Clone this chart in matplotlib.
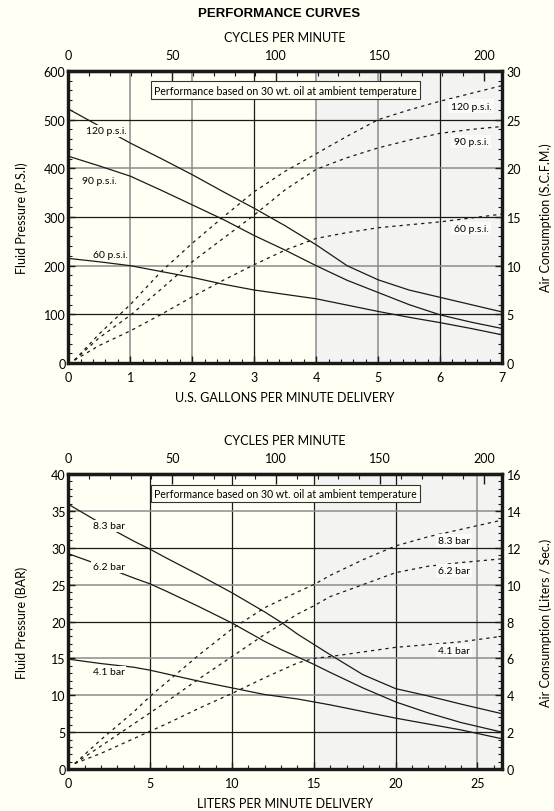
import matplotlib
matplotlib.use("Agg")
import matplotlib.pyplot as plt
from matplotlib.ticker import MultipleLocator

plt.rcParams['font.family'] = ['Lato', 'DejaVu Sans']

BG = '#fffff4'
SHADE = '#f3f3f1'
GRAY = '#8c8c8c'
BLACK = '#1a1a1a'

# cycles per minute at the right edge of both charts (7 gal = 26.5 l)
CYC_MAX = 208.7

# ---- U.S. chart ----
gpm = [0, 0.5, 1, 1.5, 2, 2.5, 3, 3.5, 4, 4.5, 5, 5.5, 6, 6.5, 7]
psi_120 = [522, 487, 452, 420, 387, 352, 318, 282, 243, 200, 171, 150, 135, 120, 105]
psi_90 = [425, 405, 384, 355, 325, 295, 262, 232, 200, 170, 145, 120, 99, 84, 71]
psi_60 = [215, 208, 200, 188, 176, 162, 150, 141, 132, 119, 106, 94, 83, 71, 58]

gpm_air = [0.1, 0.5, 1, 1.5, 2, 2.5, 3, 3.5, 4, 4.5, 5, 5.5, 6, 6.5, 7]
scfm_120 = [0.3, 3.0, 6.0, 9.4, 12.3, 15.0, 17.6, 19.7, 21.5, 23.3, 25.0, 26.0, 26.9, 27.7, 28.5]
scfm_90 = [0.3, 2.6, 4.9, 7.6, 10.4, 12.8, 15.2, 17.8, 19.9, 21.1, 22.1, 22.9, 23.6, 24.0, 24.3]
scfm_60 = [0.3, 1.8, 3.3, 5.0, 6.8, 8.5, 10.1, 11.6, 12.8, 13.4, 13.9, 14.2, 14.5, 14.9, 15.3]

psi_names = ['120 p.s.i.', '90 p.s.i.', '60 p.s.i.']
psi_name_left = [(0.62, 477), (0.51, 375), (0.68, 224)]
psi_name_right = [(6.5, 26.4), (6.5, 22.8), (6.5, 13.8)]

# ---- metric chart ----
lpm = [0, 2, 4, 5, 6, 8, 10, 12, 13, 14, 15, 16, 18, 20, 22, 24, 26.5]
bar_83 = [35.9, 33.3, 30.9, 29.8, 28.6, 26.3, 23.9, 21.3, 19.9, 18.3, 16.9, 15.5, 12.8, 10.9, 9.9, 8.8, 7.5]
bar_62 = [29.2, 27.6, 25.9, 25.1, 24.1, 22.0, 19.8, 17.3, 16.2, 15.2, 14.2, 13.1, 11.0, 9.1, 7.6, 6.3, 5.0]
bar_41 = [14.9, 14.3, 13.8, 13.4, 12.9, 11.9, 11.0, 10.1, 9.8, 9.5, 9.1, 8.7, 7.8, 6.9, 6.1, 5.3, 4.1]

lpm_air = [0.4, 2, 4, 5, 6, 8, 10, 12, 14, 15, 16, 18, 20, 22, 24, 26.5]
lps_83 = [0.3, 1.6, 3.1, 3.95, 4.7, 6.2, 7.6, 8.75, 9.6, 10.0, 10.5, 11.35, 12.1, 12.6, 13.0, 13.5]
lps_62 = [0.3, 1.25, 2.45, 3.05, 3.65, 4.9, 6.1, 7.3, 8.4, 8.85, 9.35, 10.0, 10.65, 11.0, 11.2, 11.4]
lps_41 = [0.3, 0.85, 1.65, 2.05, 2.45, 3.3, 4.1, 4.95, 5.75, 6.0, 6.1, 6.35, 6.6, 6.75, 6.9, 7.2]

bar_names = ['8.3 bar', '6.2 bar', '4.1 bar']
bar_name_left = [(2.46, 33.0), (2.46, 27.4), (2.46, 13.2)]
bar_name_right = [(23.56, 12.38), (23.56, 10.75), (23.56, 6.45)]

NOTE = 'Performance based on 30 wt. oil at ambient temperature'


def panel(ax, x, curves, x_air, airs, names, pos_left, pos_right,
          xmax, xticks, xminor, ymax, ymajor, yminor, y2max, y2major, y2minor,
          shade_from, vcolors, hcolors, xlabel, ylabel, y2label):
    ax.set_facecolor(BG)
    ax.axvspan(shade_from, xmax, color=SHADE, zorder=0, lw=0)
    for v, c in zip(xticks[1:], vcolors):
        ax.axvline(v, color=c, lw=1.1 if c == GRAY else 0.9, zorder=1)
    for h, c in zip(range(ymajor, ymax, ymajor), hcolors):
        ax.axhline(h, color=c, lw=1.1 if c == GRAY else 0.9, zorder=1)

    for y in curves:
        ax.plot(x, y, color=BLACK, lw=0.9, zorder=3)
    for name, (tx, ty) in zip(names, pos_left):
        ax.text(tx, ty, name, fontsize=7.5, ha='center', va='center', zorder=4,
                bbox=dict(boxstyle='square,pad=0.15', fc=BG, ec='none'))

    ax.set_xlim(0, xmax)
    ax.set_ylim(0, ymax)
    ax.set_xticks(xticks)
    ax.xaxis.set_minor_locator(MultipleLocator(xminor))
    ax.yaxis.set_major_locator(MultipleLocator(ymajor))
    ax.yaxis.set_minor_locator(MultipleLocator(yminor))
    ax.tick_params(which='both', direction='in', labelsize=9, color=BLACK)
    ax.tick_params(which='major', length=5, width=1)
    ax.tick_params(which='minor', length=3, width=0.8)
    ax.tick_params(axis='x', pad=6)
    ax.tick_params(axis='y', pad=2)

    ax.set_xlabel(xlabel, fontsize=9, va='center')
    ax.xaxis.set_label_coords(0.5, -0.115)
    ax.set_ylabel(ylabel, fontsize=9, va='center')
    ax.yaxis.set_label_coords(-0.107, 0.5)

    ax2 = ax.twinx()
    for y in airs:
        ax2.plot(x_air, y, color=BLACK, lw=0.9, ls=(0, (2.6, 3.2)), zorder=3)
    for name, (tx, ty) in zip(names, pos_right):
        ax2.text(tx, ty, name, fontsize=7.5, ha='center', va='center', zorder=4,
                 bbox=dict(boxstyle='square,pad=0.2', fc='#fbfbf9', ec='none'))
    ax2.set_ylim(0, y2max)
    ax2.yaxis.set_major_locator(MultipleLocator(y2major))
    ax2.yaxis.set_minor_locator(MultipleLocator(y2minor))
    ax2.tick_params(which='both', direction='in', labelsize=9, pad=3.5, color=BLACK)
    ax2.tick_params(which='major', length=5, width=1)
    ax2.tick_params(which='minor', length=3, width=0.8)
    ax2.set_ylabel(y2label, fontsize=9, va='center', rotation=90)
    ax2.yaxis.set_label_coords(1.1, 0.5)

    ax2.text(0.5, 0.935, NOTE, transform=ax2.transAxes, fontsize=7.6,
             ha='center', va='center', zorder=5,
             bbox=dict(boxstyle='square,pad=0.3', fc=BG, ec='#333333', lw=0.8))

    sec = ax.secondary_xaxis('top', functions=(lambda v: v * CYC_MAX / xmax,
                                               lambda c: c * xmax / CYC_MAX))
    sec.set_xticks([0, 50, 100, 150, 200])
    sec.xaxis.set_minor_locator(MultipleLocator(10))
    sec.tick_params(which='both', direction='in', labelsize=9, pad=7, color=BLACK)
    sec.tick_params(which='major', length=7, width=1)
    sec.tick_params(which='minor', length=3.5, width=0.8)
    sec.set_xlabel('CYCLES PER MINUTE', fontsize=9, labelpad=6)

    for a in (ax, ax2, sec):
        for s in a.spines.values():
            s.set_linewidth(2.3)
            s.set_color(BLACK)


fig = plt.figure(figsize=(5.54, 8.12), dpi=100, facecolor=BG)
ax_us = fig.add_axes([0.1233, 0.5517, 0.7828, 0.3596])
ax_si = fig.add_axes([0.1233, 0.0517, 0.7828, 0.3633])

fig.text(0.5036, 0.983, 'PERFORMANCE CURVES', ha='center', va='center',
         fontsize=9.5, fontweight='bold', family=['Liberation Sans', 'DejaVu Sans'])

panel(ax_us, gpm, [psi_120, psi_90, psi_60], gpm_air, [scfm_120, scfm_90, scfm_60],
      psi_names, psi_name_left, psi_name_right,
      7, [0, 1, 2, 3, 4, 5, 6, 7], 0.2, 600, 100, 20, 30, 5, 1, 4,
      [GRAY, GRAY, BLACK, GRAY, GRAY, BLACK],
      [BLACK, GRAY, BLACK, GRAY, BLACK],
      'U.S. GALLONS PER MINUTE DELIVERY', 'Fluid Pressure (P.S.I)',
      'Air Consumption (S.C.F.M.)')

panel(ax_si, lpm, [bar_83, bar_62, bar_41], lpm_air, [lps_83, lps_62, lps_41],
      bar_names, bar_name_left, bar_name_right,
      26.5, [0, 5, 10, 15, 20, 25], 1, 40, 5, 1, 16, 2, 0.4, 15,
      [BLACK, BLACK, BLACK, BLACK, GRAY],
      [BLACK, GRAY, GRAY, BLACK, GRAY, BLACK, GRAY],
      'LITERS PER MINUTE DELIVERY', 'Fluid Pressure (BAR)',
      'Air Consumption (Liters / Sec.)')

fig.savefig('out.png', dpi=100, facecolor=BG)
